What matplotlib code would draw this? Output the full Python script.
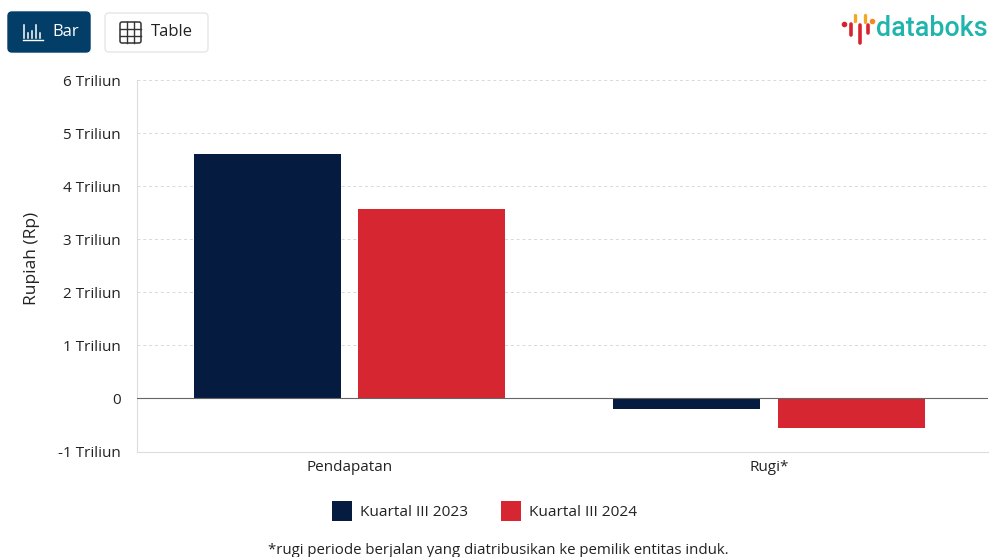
#!/usr/bin/env python3
"""Pendapatan dan rugi, Kuartal III 2023 vs 2024 (databoks style)"""

import matplotlib
matplotlib.use('Agg')
import matplotlib.pyplot as plt
from matplotlib.patches import FancyBboxPatch, Rectangle
import numpy as np

categories = ['Pendapatan', 'Rugi*']
series_names = ['Kuartal III 2023', 'Kuartal III 2024']
values_2023 = [4.6, -0.19]
values_2024 = [3.56, -0.56]
yticks = [-1, 0, 1, 2, 3, 4, 5, 6]
ytick_labels = ['-1 Triliun', '0', '1 Triliun', '2 Triliun', '3 Triliun',
                '4 Triliun', '5 Triliun', '6 Triliun']
footnote = '*rugi periode berjalan yang diatribusikan ke pemilik entitas induk.'

NAVY = '#051c40'
RED = '#d62631'
TEXT = '#222222'
W, H = 990, 557

plt.rcParams['font.family'] = ['Open Sans', 'DejaVu Sans']

fig = plt.figure(figsize=(W / 100, H / 100), dpi=100)

# plot area, placed in pixels
left, right, top, bottom = 136.5, 988, 80, 451.5
ax = fig.add_axes([left / W, 1 - bottom / H, (right - left) / W, (bottom - top) / H])

x = np.arange(len(categories))
width = 0.35
ax.bar(x - 0.196, values_2023, width, color=NAVY, zorder=3)
ax.bar(x + 0.196, values_2024, width, color=RED, zorder=3)

ax.set_xlim(-0.507, 1.521)
ax.set_ylim(-1, 6)
ax.set_yticks(yticks)
ax.set_yticklabels(ytick_labels, fontsize=11, color=TEXT)
ax.set_xticks(x)
ax.set_xticklabels(categories, fontsize=11, color=TEXT)
ax.tick_params(axis='both', length=0)
ax.tick_params(axis='y', pad=11.5)
ax.tick_params(axis='x', pad=6)
ax.set_ylabel('Rupiah (Rp)', fontsize=12.5, color=TEXT, labelpad=13, y=0.52)

ax.grid(axis='y', color='#d8d8d8', linestyle=(0, (3, 3)), linewidth=0.7, zorder=0)
ax.axhline(0, color='#666666', linewidth=0.8, zorder=4)
for side in ['top', 'right']:
    ax.spines[side].set_visible(False)
for side in ['bottom', 'left']:
    ax.spines[side].set_color('#dcdcdc')
    ax.spines[side].set_linewidth(0.8)

# overlay in pixel coordinates for the buttons, logo, legend and footnote
ov = fig.add_axes([0, 0, 1, 1], zorder=5)
ov.set_xlim(0, W)
ov.set_ylim(H, 0)
ov.axis('off')

ov.add_patch(FancyBboxPatch((8, 12), 82, 40, boxstyle='round,pad=0,rounding_size=4',
                            facecolor='#033e68', edgecolor='#033e68'))
ov.add_patch(FancyBboxPatch((105, 13), 103, 39, boxstyle='round,pad=0,rounding_size=4',
                            facecolor='white', edgecolor='#e6e6e6', linewidth=1))
ov.text(52, 32.5, 'Bar', color='white', fontsize=12, va='center')
ov.text(151, 32.5, 'Table', color=TEXT, fontsize=12, va='center')

# bar icon
ov.plot([23, 43], [40, 40], color='white', lw=1)
for bx, by in zip([24, 28, 32, 36, 40], [25, 33, 31, 25, 33]):
    ov.plot([bx, bx], [by, 38], color='white', lw=1.1)

# table icon
ov.add_patch(FancyBboxPatch((120, 22), 21, 21, boxstyle='round,pad=0,rounding_size=2',
                            facecolor='none', edgecolor='#333333', linewidth=1.1))
for t in [127, 134]:
    ov.plot([t, t], [22, 43], color='#333333', lw=1)
for t in [29, 36]:
    ov.plot([120, 141], [t, t], color='#333333', lw=1)

# logo
for lx, y0, y1 in [(851, 24, 35), (860, 25, 43), (868, 25, 33)]:
    ov.plot([lx, lx], [y0, y1], color='#d8232f', lw=2.6, solid_capstyle='round')
for lx, y0, y1 in [(855, 15, 21), (865, 15, 22)]:
    ov.plot([lx, lx], [y0, y1], color='#f5a623', lw=2.4, solid_capstyle='round')
for lx, ly in [(844, 24), (872, 21)]:
    ov.plot([lx], [ly], 'o', color='#f08a24' if lx > 850 else '#d8232f', ms=3)
ov.text(876, 29, 'databoks', color='#1fb5ad', fontsize=19.4, va='center',
        family=['Roboto', 'DejaVu Sans'], fontweight='medium')

# legend
ov.add_patch(Rectangle((332, 501), 20, 20, facecolor=NAVY))
ov.text(360, 512, series_names[0], fontsize=11.1, color=TEXT, va='center')
ov.add_patch(Rectangle((501, 501), 20, 20, facecolor=RED))
ov.text(529, 512, series_names[1], fontsize=11.1, color=TEXT, va='center')

ov.text(498, 550, footnote, fontsize=10.8, color=TEXT, ha='center', va='center')

fig.savefig('out.png', dpi=100)
